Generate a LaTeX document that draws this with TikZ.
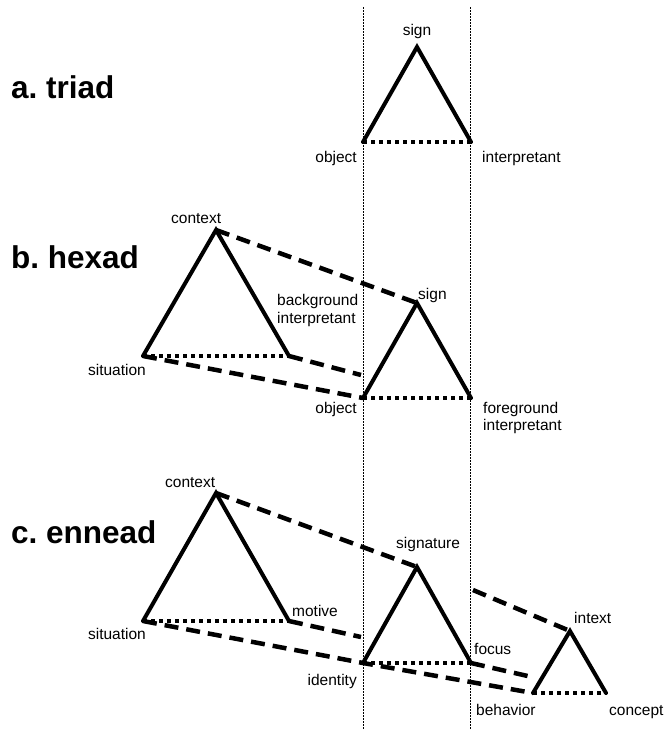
\documentclass[tikz,border=0pt]{standalone}
\usepackage{fontspec}
\setmainfont{Liberation Sans}
\frenchspacing
\begin{document}
\begin{tikzpicture}[x=1pt,y=-1pt,
  side/.style={line width=4pt, line join=miter, line cap=round},
  basedots/.style={line width=4.2pt, dash pattern=on 4pt off 4pt},
  link/.style={line width=4.5pt, dash pattern=on 14pt off 8pt},
  guide/.style={line width=0.9pt, dash pattern=on 1.6pt off 1.4pt},
  lbl/.style={inner sep=0pt, font=\fontsize{15.5}{17}\selectfont},
  ttl/.style={inner sep=0pt, anchor=base west, font=\fontsize{31.5}{36}\selectfont\bfseries}]
\useasboundingbox (0,0) rectangle (665,729);

% guide lines
\coordinate (g1t) at (363.5,7); \coordinate (g1b) at (363.5,729);
\coordinate (g2t) at (470.5,7); \coordinate (g2b) at (470.5,729);
\draw[guide] (g1t) -- (g1b);
\draw[guide] (g2t) -- (g2b);

% titles
\node[ttl] (ta) at (11,98) {a.\ triad};
\node[ttl] (tb) at (11,268) {b.\ hexad};
\node[ttl] (tc) at (11,543) {c.\ ennead};

% ---- a. triad
\coordinate (aS) at (417,47);
\coordinate (aO) at (363,142);
\coordinate (aI) at (471,142);
\draw[basedots] (aO) -- (aI);
\draw[side] (aO) -- (aS) -- (aI);
\node[lbl, anchor=base] (laS) at (417,35) {sign};
\node[lbl, anchor=base east] (laO) at (357,162) {object};
\node[lbl, anchor=base west] (laI) at (482,162) {interpretant};

% ---- b. hexad
\coordinate (bC) at (216,230);
\coordinate (bSit) at (143,356);
\coordinate (bB) at (289,356);
\coordinate (bS) at (417,303);
\coordinate (bO) at (363,398);
\coordinate (bF) at (471,398);
\coordinate (bBend) at (361,375);
\draw[link] (bC) -- (bS);
\draw[link] (bSit) -- (bO);
\draw[link] (bB) -- (bBend);
\draw[basedots] (bSit) -- (bB);
\draw[side] (bSit) -- (bC) -- (bB);
\draw[basedots] (bO) -- (bF);
\draw[side] (bO) -- (bS) -- (bF);
\node[lbl, anchor=base west] (lbC) at (171,223) {context};
\node[lbl, anchor=base west] (lbB1) at (277,305) {background};
\node[lbl, anchor=base west] (lbB2) at (277,323) {interpretant};
\node[lbl, anchor=base west] (lbS) at (418,299) {sign};
\node[lbl, anchor=base east] (lbSit) at (146,375) {situation};
\node[lbl, anchor=base east] (lbO) at (357,413) {object};
\node[lbl, anchor=base west] (lbF1) at (483,413) {foreground};
\node[lbl, anchor=base west] (lbF2) at (483,430) {interpretant};

% ---- c. ennead
\coordinate (cC) at (216,493);
\coordinate (cSit) at (143,621);
\coordinate (cM) at (289,621);
\coordinate (cS) at (417,567);
\coordinate (cId) at (363,663);
\coordinate (cF) at (471,663);
\coordinate (cIx) at (570,631);
\coordinate (cBh) at (533,693);
\coordinate (cCo) at (606,693);
\coordinate (cMend) at (361,637);
\coordinate (cFend) at (532,677);
\coordinate (cSstart) at (473,590);
\draw[link] (cC) -- (cS);
\draw[link] (cSit) -- (cId) -- (cBh);
\draw[link] (cM) -- (cMend);
\draw[link] (cF) -- (cFend);
\draw[link] (cSstart) -- (cIx);
\draw[basedots] (cSit) -- (cM);
\draw[side] (cSit) -- (cC) -- (cM);
\draw[basedots] (cId) -- (cF);
\draw[side] (cId) -- (cS) -- (cF);
\draw[basedots] (cBh) -- (cCo);
\draw[side] (cBh) -- (cIx) -- (cCo);
\node[lbl, anchor=base west] (lcC) at (165,487) {context};
\node[lbl, anchor=base west] (lcS) at (396,548) {signature};
\node[lbl, anchor=base west] (lcM) at (292,616) {motive};
\node[lbl, anchor=base east] (lcSit) at (146,639) {situation};
\node[lbl, anchor=base east] (lcId) at (357,685) {identity};
\node[lbl, anchor=base west] (lcF) at (474,654) {focus};
\node[lbl, anchor=base west] (lcIx) at (574,623) {intext};
\node[lbl, anchor=base west] (lcBh) at (476,715) {behavior};
\node[lbl, anchor=base west] (lcCo) at (609,715) {concept};
\end{tikzpicture}
\end{document}
